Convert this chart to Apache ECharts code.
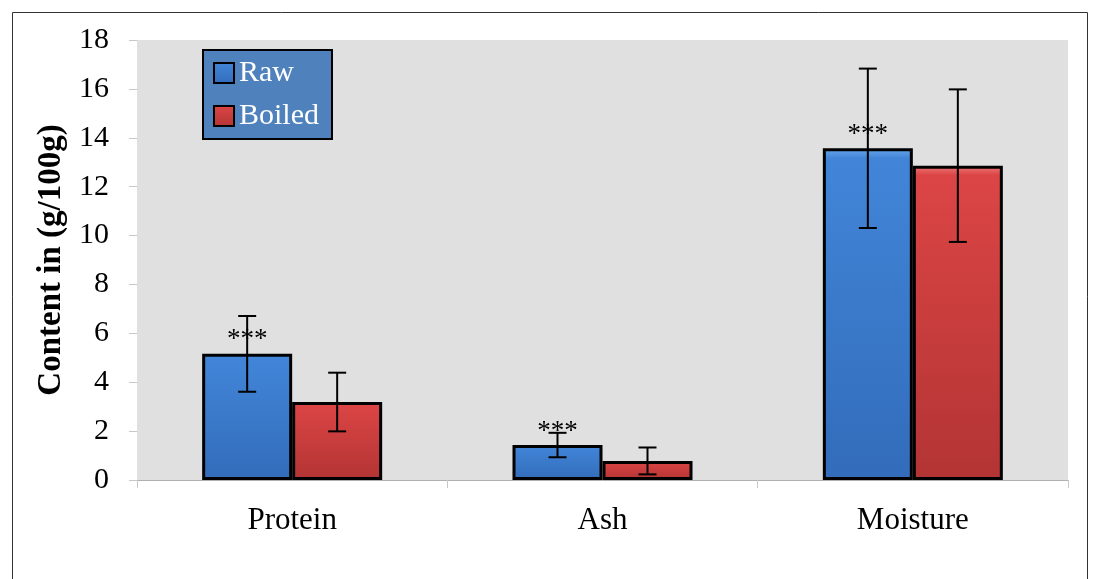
<!DOCTYPE html>
<html><head><meta charset="utf-8">
<script src="https://cdn.jsdelivr.net/npm/echarts@6/dist/echarts.min.js"></script>
<style>html,body{margin:0;padding:0;background:#fff}#c{width:1094px;height:579px}</style>
</head><body><div id="c"></div>
<script>
const categories = ['Protein', 'Ash', 'Moisture'];
const rawValues = [5.16, 1.43, 13.57];
const rawErrors = [1.55, 0.5, 3.26];
const boiledValues = [3.19, 0.78, 12.86];
const boiledErrors = [1.2, 0.55, 3.12];
const rawMarks = ['***', '***', '***'];
const seriesNames = ['Raw', 'Boiled'];
const yTicks = { min: 0, max: 18, interval: 2 };

const FONT = '"Liberation Serif", "Times New Roman", serif';
const BAR_W = 90;

function errData(vals, errs) {
  return vals.map((v, i) => [i, v - errs[i], v + errs[i]]);
}
function errRender(offset) {
  return function (params, api) {
    const i = api.value(0);
    const lo = api.coord([i, api.value(1)]);
    const hi = api.coord([i, api.value(2)]);
    const x = lo[0] + offset;
    const cap = 9;
    const style = { stroke: '#000', lineWidth: 2 };
    return {
      type: 'group',
      children: [
        { type: 'line', shape: { x1: x, y1: hi[1], x2: x, y2: lo[1] }, style },
        { type: 'line', shape: { x1: x - cap, y1: hi[1], x2: x + cap, y2: hi[1] }, style },
        { type: 'line', shape: { x1: x - cap, y1: lo[1], x2: x + cap, y2: lo[1] }, style }
      ]
    };
  };
}
const blueGrad = new echarts.graphic.LinearGradient(0, 0, 0, 1, [
  { offset: 0, color: '#6aa6ea' }, { offset: 0.03, color: '#4285d8' }, { offset: 1, color: '#326cba' }
]);
const redGrad = new echarts.graphic.LinearGradient(0, 0, 0, 1, [
  { offset: 0, color: '#f07a7a' }, { offset: 0.03, color: '#dc4545' }, { offset: 1, color: '#b33434' }
]);

const chart = echarts.init(document.getElementById('c'), null, { renderer: 'canvas' });
chart.setOption({
  backgroundColor: '#ffffff',
  animation: false,
  graphic: [{
    type: 'rect', left: 10, top: 10, silent: true,
    shape: { width: 1075, height: 580 },
    style: { fill: 'none', stroke: '#333', lineWidth: 1 }
  }],
  grid: { left: 137, right: 26, top: 40, bottom: 99, show: true, backgroundColor: '#e0e0e0', borderWidth: 0 },
  legend: {
    orient: 'vertical', left: 203, top: 50,
    data: seriesNames,
    backgroundColor: '#4f81bd', borderColor: '#000', borderWidth: 2,
    padding: [8, 13, 8, 10], itemGap: 13,
    itemWidth: 20, itemHeight: 20, icon: 'rect',
    textStyle: { color: '#fff', fontSize: 30, fontFamily: FONT, lineHeight: 30 }
  },
  xAxis: {
    type: 'category', data: categories,
    axisLine: { lineStyle: { color: '#b0b0b0', width: 1 } },
    axisTick: { show: true, length: 8, lineStyle: { color: '#c8c8c8' } },
    axisLabel: { color: '#000', fontSize: 31, fontFamily: FONT, margin: 25 }
  },
  yAxis: {
    type: 'value', min: yTicks.min, max: yTicks.max, interval: yTicks.interval,
    name: 'Content in (g/100g)', nameLocation: 'middle', nameGap: 61,
    nameTextStyle: { color: '#000', fontSize: 33, fontWeight: 'bold', fontFamily: FONT },
    axisLine: { show: false },
    axisTick: { show: true, length: 8, lineStyle: { color: '#c8c8c8' } },
    splitLine: { show: false },
    axisLabel: { color: '#000', fontSize: 30, fontFamily: FONT, margin: 28 }
  },
  series: [
    {
      name: seriesNames[0], type: 'bar', data: rawValues, barWidth: BAR_W, barGap: '0%',
      itemStyle: { color: blueGrad, borderColor: '#000', borderWidth: 3 },
      label: {
        show: true, position: 'top', distance: 0,
        formatter: p => rawMarks[p.dataIndex],
        color: '#000', fontSize: 27, fontFamily: FONT
      }
    },
    {
      name: seriesNames[1], type: 'bar', data: boiledValues, barWidth: BAR_W,
      itemStyle: { color: redGrad, borderColor: '#000', borderWidth: 3 }
    },
    { type: 'custom', data: errData(rawValues, rawErrors), renderItem: errRender(-BAR_W / 2), z: 10, encode: { x: 0, y: [1, 2] } },
    { type: 'custom', data: errData(boiledValues, boiledErrors), renderItem: errRender(BAR_W / 2), z: 10, encode: { x: 0, y: [1, 2] } }
  ]
});
</script></body></html>
